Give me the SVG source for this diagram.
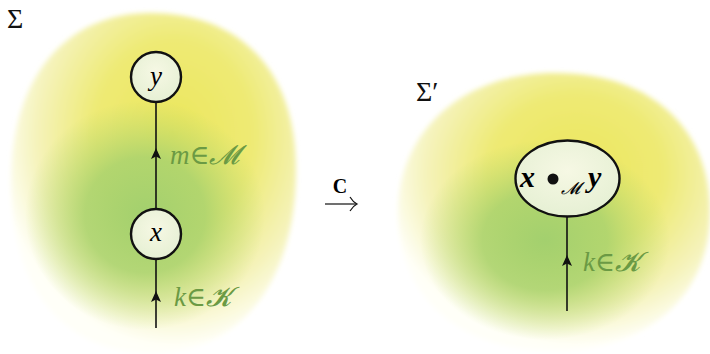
<svg xmlns="http://www.w3.org/2000/svg" width="710" height="354" viewBox="0 0 710 354">
<style>
.node{fill:url(#nodeFill);stroke:#111;stroke-width:2.4}
.edge{stroke:#111;stroke-width:1.6;fill:none}
.math{font-family:"Liberation Serif","DejaVu Serif",serif;font-style:italic}
.lbl{fill:#6b9a44;font-size:27px}
.sig{font-family:"Liberation Serif","DejaVu Serif",serif;font-size:28px;fill:#111}
</style>
<defs>
<radialGradient id="yel" cx="0.57" cy="0.36" r="0.62">
<stop offset="0" stop-color="#ebe65c"/>
<stop offset="0.45" stop-color="#eeea74"/>
<stop offset="0.78" stop-color="#f5f3bc"/>
<stop offset="1" stop-color="#fffff8"/>
</radialGradient>
<radialGradient id="grn" cx="0.5" cy="0.5" r="0.5">
<stop offset="0" stop-color="#a3d06e" stop-opacity="1"/>
<stop offset="0.5" stop-color="#a8d26e" stop-opacity="0.85"/>
<stop offset="1" stop-color="#b8d870" stop-opacity="0"/>
</radialGradient>
<radialGradient id="nodeFill" cx="0.5" cy="0.4" r="0.6">
<stop offset="0" stop-color="#f6f8e4"/>
<stop offset="1" stop-color="#e6f0d4"/>
</radialGradient>
<filter id="soft" x="-10%" y="-10%" width="120%" height="120%">
<feGaussianBlur stdDeviation="2.5"/>
</filter>
<path id="head" d="M0,-6 L5,5 L0,2.5 L-5,5 Z" fill="#111"/>
</defs>

<g id="sigma">
<path d="M150,13 C232,13 296,62 296,170 C296,282 240,353 153,353 C66,353 11,292 11,182 C11,72 70,13 150,13 Z" fill="url(#yel)" filter="url(#soft)"/>
<ellipse cx="145" cy="215" rx="120" ry="115" fill="url(#grn)"/>
<text class="sig" x="7" y="28">Σ</text>
</g>

<g id="sigmaPrime">
<path d="M555,73 C655,73 710,132 710,212 C710,300 642,351 555,351 C462,351 398,300 398,212 C398,132 462,73 555,73 Z" fill="url(#yel)" filter="url(#soft)"/>
<ellipse cx="545" cy="240" rx="125" ry="100" fill="url(#grn)"/>
<text class="sig" x="416" y="101">Σ′</text>
</g>

<g id="connectors">
<line class="edge" x1="156" y1="102" x2="156" y2="209"/>
<use href="#head" x="156" y="154"/>
<line class="edge" x1="156" y1="259" x2="156" y2="328"/>
<use href="#head" x="156" y="297"/>
<line class="edge" x1="567" y1="217" x2="567" y2="311"/>
<use href="#head" x="567" y="261"/>
</g>

<g id="labels">
<text class="math lbl" x="170" y="164">m∈𝓜</text>
<text class="math lbl" x="174" y="306">k∈𝓚</text>
<text class="math lbl" x="583" y="271">k∈𝓚</text>
</g>

<g id="node-y">
<circle class="node" cx="156" cy="77" r="25"/>
<text class="math" x="156" y="85" font-size="27" text-anchor="middle">y</text>
</g>
<g id="node-x">
<circle class="node" cx="156" cy="234" r="25"/>
<text class="math" x="156" y="241" font-size="27" text-anchor="middle">x</text>
</g>
<g id="node-xy">
<ellipse class="node" cx="567.5" cy="178.5" rx="52" ry="38"/>
<text class="math" font-size="30" font-weight="bold" x="520" y="187">x</text>
<circle cx="553" cy="179" r="5.5" fill="#111"/>
<text class="math" font-size="17" x="561" y="194">𝓜</text>
<text class="math" font-size="30" font-weight="bold" x="588" y="187">y</text>
</g>

<g id="transform">
<text x="340" y="193" font-family="Liberation Serif, DejaVu Serif, serif" font-weight="bold" font-size="20" text-anchor="middle">C</text>
<line x1="325" y1="204" x2="356" y2="204" stroke="#111" stroke-width="1.2"/>
<path d="M350,197 Q353,202 357,204 Q353,206 350,211" fill="none" stroke="#111" stroke-width="1.2"/>
</g>
</svg>
